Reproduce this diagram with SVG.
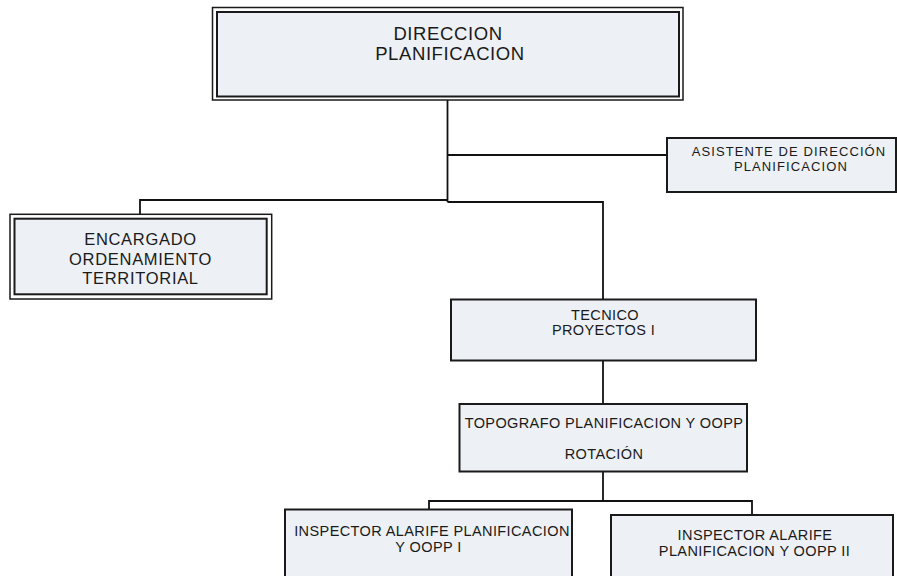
<svg xmlns="http://www.w3.org/2000/svg" width="897" height="576" viewBox="0 0 897 576">
  <style>
    .box { fill: #edf0f5; stroke: #1a1a1a; stroke-width: 2; }
    .outer { fill: none; stroke: #1a1a1a; stroke-width: 1.5; }
    .wire { fill: none; stroke: #111; stroke-width: 1.8; }
    text { font-family: "Liberation Sans", Arial, sans-serif; fill: #1a1a1a; text-anchor: middle; }
    .t18 { font-size: 18.5px; letter-spacing: 0.6px; }
    .t16 { font-size: 16.5px; letter-spacing: 0.7px; }
    .t14 { font-size: 14.5px; letter-spacing: 0.4px; }
    .t13 { font-size: 13px; letter-spacing: 1.1px; }
  </style>

  <g id="connectors">
    <path class="wire" d="M447.5,100 V202"/>
    <path class="wire" d="M447.5,155 H667"/>
    <path class="wire" d="M140,214 V200 H447.5"/>
    <path class="wire" d="M447.5,202 H603 V299"/>
    <path class="wire" d="M603,361 V404"/>
    <path class="wire" d="M603,472 V501"/>
    <path class="wire" d="M429,509 V501 H752 V515"/>
  </g>

  <g id="direccion">
    <rect class="outer" x="212.5" y="7.5" width="470.5" height="92.5"/>
    <rect class="box" x="217" y="12" width="462" height="84.5"/>
    <text class="t18" x="448" y="39.5">DIRECCION</text>
    <text class="t18" x="450" y="60">PLANIFICACION</text>
  </g>

  <g id="asistente">
    <rect class="box" x="667" y="138" width="229" height="54"/>
    <text class="t13" x="789" y="155.5">ASISTENTE DE DIRECCIÓN</text>
    <text class="t13" x="791" y="170.5">PLANIFICACION</text>
  </g>

  <g id="encargado">
    <rect class="outer" x="10" y="214.3" width="261.7" height="84.7"/>
    <rect class="box" x="14.5" y="218.7" width="252.2" height="75.6"/>
    <text class="t16" x="140.5" y="245">ENCARGADO</text>
    <text class="t16" x="140.5" y="264.5">ORDENAMIENTO</text>
    <text class="t16" x="140.5" y="284">TERRITORIAL</text>
  </g>

  <g id="tecnico">
    <rect class="box" x="451" y="299.5" width="305" height="61"/>
    <text class="t14" x="605" y="319.5">TECNICO</text>
    <text class="t14" x="603.5" y="335">PROYECTOS I</text>
  </g>

  <g id="topografo">
    <rect class="box" x="459.5" y="404" width="287.5" height="67.5"/>
    <text class="t14" x="604" y="428">TOPOGRAFO PLANIFICACION Y OOPP</text>
    <text class="t14" x="604" y="458.5">ROTACIÓN</text>
  </g>

  <g id="inspector-1">
    <rect class="box" x="285" y="509.5" width="287" height="80"/>
    <text class="t14" x="432" y="535.5">INSPECTOR ALARIFE PLANIFICACION</text>
    <text class="t14" x="428.5" y="551.5">Y OOPP I</text>
  </g>

  <g id="inspector-2">
    <rect class="box" x="611" y="515" width="282" height="80"/>
    <text class="t14" x="755" y="540">INSPECTOR ALARIFE</text>
    <text class="t14" x="754.5" y="555.5">PLANIFICACION Y OOPP II</text>
  </g>
</svg>
